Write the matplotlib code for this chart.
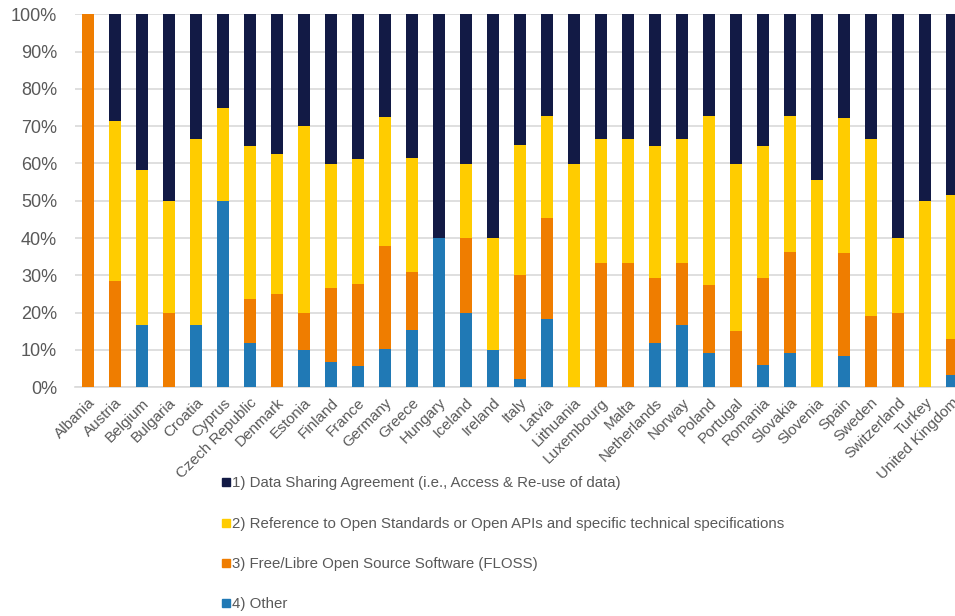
import numpy as np
import matplotlib
matplotlib.use("Agg")
import matplotlib.pyplot as plt
from matplotlib.lines import Line2D
from matplotlib.ticker import PercentFormatter

plt.rcParams["font.family"] = ["Liberation Sans", "DejaVu Sans"]

countries = [
    "Albania", "Austria", "Belgium", "Bulgaria", "Croatia", "Cyprus",
    "Czech Republic", "Denmark", "Estonia", "Finland", "France", "Germany",
    "Greece", "Hungary", "Iceland", "Ireland", "Italy", "Latvia", "Lithuania",
    "Luxembourg", "Malta", "Netherlands", "Norway", "Poland", "Portugal",
    "Romania", "Slovakia", "Slovenia", "Spain", "Sweden", "Switzerland",
    "Turkey", "United Kingdom",
]

# shares in %, stacked bottom-up: other, floss, standards, agreement
other = [0, 0, 16.7, 0, 16.7, 50, 11.8, 0, 10, 6.7, 5.6, 10.3,
         15.4, 40, 20, 10, 2.3, 18.2, 0, 0, 0, 11.8, 16.7, 9.1, 0,
         5.9, 9.1, 0, 8.3, 0, 0, 0, 3.2]
floss = [100, 28.6, 0, 20, 0, 0, 11.8, 25, 10, 20, 22.2, 27.6,
         15.4, 0, 20, 0, 27.7, 27.3, 0, 33.3, 33.3, 17.6, 16.7, 18.2, 15,
         23.5, 27.3, 0, 27.8, 19.0, 20, 0, 9.7]
standards = [0, 42.8, 41.6, 30, 50, 25, 41.1, 37.5, 50, 33.3, 33.3, 34.5,
             30.7, 0, 20, 30, 35.0, 27.2, 60, 33.3, 33.3, 35.3, 33.3, 45.4, 45,
             35.3, 36.3, 55.6, 36.1, 47.6, 20, 50, 38.7]
agreement = [0, 28.6, 41.7, 50, 33.3, 25, 35.3, 37.5, 30, 40, 38.9, 27.6,
             38.5, 60, 40, 60, 35.0, 27.3, 40, 33.4, 33.4, 35.3, 33.3, 27.3, 40,
             35.3, 27.3, 44.4, 27.8, 33.4, 60, 50, 48.4]

series_labels = [
    "1) Data Sharing Agreement (i.e., Access & Re-use of data)",
    "2) Reference to Open Standards or Open APIs and specific technical specifications",
    "3) Free/Libre Open Source Software (FLOSS)",
    "4) Other",
]
colors = ["#121A45", "#FFCC00", "#EF7D00", "#2079B5"]
grey = "#595959"

fig = plt.figure(figsize=(9.55, 6.16), dpi=100)
ax = fig.add_axes([74.5 / 955, 1 - 387.3 / 616, 891 / 955, 373 / 616])

x = np.arange(len(countries))
w = 0.41
stack = [other, floss, standards, agreement]
stack_colors = colors[::-1]
bottom = np.zeros(len(countries))
for vals, c in zip(stack, stack_colors):
    vals = np.array(vals, dtype=float)
    ax.bar(x, vals, w, bottom=bottom, color=c, zorder=3)
    bottom += vals

ax.set_xlim(-0.5, len(countries) - 0.5)
ax.set_ylim(0, 100)
ax.set_yticks(np.arange(0, 101, 10))
ax.yaxis.set_major_formatter(PercentFormatter(decimals=0))
ax.grid(axis="y", color="#D9D9D9", linewidth=1.2, zorder=0)
for s in ["top", "right", "left"]:
    ax.spines[s].set_visible(False)
ax.spines["bottom"].set_color("#D9D9D9")
ax.spines["bottom"].set_linewidth(1.2)
ax.tick_params(length=0, colors=grey)
ax.tick_params(axis="y", labelsize=13, pad=12.5)
ax.set_xticks(x)
ax.set_xticklabels(countries, rotation=45, ha="right", rotation_mode="anchor",
                   fontsize=11, color=grey)
ax.tick_params(axis="x", pad=6)

handles = [Line2D([], [], marker="s", linestyle="none", markersize=5.5,
                  color=c) for c in colors]
leg = fig.legend(handles, series_labels, loc="upper left",
                 bbox_to_anchor=(215 / 955, 1 - 469 / 616), frameon=False,
                 fontsize=10.8, labelspacing=1.75, handlelength=0.5,
                 handletextpad=0.1, borderpad=0)
for t in leg.get_texts():
    t.set_color(grey)

fig.savefig("out.png", dpi=100)
